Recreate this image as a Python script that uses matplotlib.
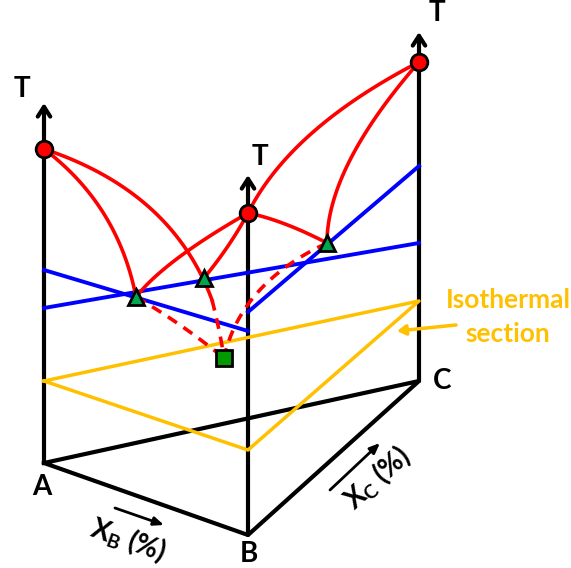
import numpy as np
import matplotlib
matplotlib.use("Agg")
import matplotlib.pyplot as plt

plt.rcParams["font.family"] = ["Lato", "DejaVu Sans"]
plt.rcParams["mathtext.fontset"] = "custom"
plt.rcParams["mathtext.rm"] = "Lato"
plt.rcParams["mathtext.bf"] = "Lato:bold"

# prism corners (base) and top of each temperature axis
corners = {"A": (44, 463), "B": (248, 535), "C": (419, 381)}
axisTops = {"A": 103, "B": 175, "C": 32}

# melting points of the pure components
meltA = (44, 149)
meltB = (248, 213)
meltC = (419, 62)

# binary eutectics and ternary eutectic
eutectics = [(136, 297), (204, 278), (327, 243)]
ternaryE = (224, 358)

# liquidus curves: start, point on curve, end
liquidus = [
    (meltA, (104, 214), eutectics[0]),
    (meltA, (150, 208), (212, 300)),
    (meltB, (178, 258), eutectics[0]),
    (meltB, (228, 246), eutectics[1]),
    (meltC, (312, 133), meltB),
    (meltC, (350, 160), eutectics[2]),
    (meltB, (285, 224), eutectics[2]),
]
valleys = [
    (eutectics[0], (180, 325), ternaryE),
    ((212, 300), (219, 330), ternaryE),
    (eutectics[2], (258, 292), ternaryE),
]

# tie lines on the binary faces
tieLines = [((44, 270), (248, 331)), ((44, 308), (419, 243)), ((248, 312), (419, 166))]
# isothermal plane
isoPlane = [(44, 381), (248, 450), (419, 301), (44, 381)]

red = "#ff0000"
blue = "#0000ff"
gold = "#ffc000"
black = "#000000"


def bezier(p0, mid, p2, n=80):
    p0, mid, p2 = np.array(p0, float), np.array(mid, float), np.array(p2, float)
    ctrl = 2 * mid - (p0 + p2) / 2
    t = np.linspace(0, 1, n)[:, None]
    pts = (1 - t) ** 2 * p0 + 2 * (1 - t) * t * ctrl + t ** 2 * p2
    return pts[:, 0], pts[:, 1]


fig = plt.figure(figsize=(5.71, 5.68), dpi=100)
ax = fig.add_axes([0, 0, 1, 1])
ax.set_xlim(0, 571)
ax.set_ylim(568, 0)
ax.axis("off")

# base triangle
a, b, c = corners["A"], corners["B"], corners["C"]
ax.plot([a[0], b[0], c[0], a[0]], [a[1], b[1], c[1], a[1]], color=black, lw=3, solid_joinstyle="round", zorder=2)

# temperature axes
for k, (x, y) in corners.items():
    ax.annotate("", xy=(x, axisTops[k]), xytext=(x, y),
                arrowprops=dict(arrowstyle="->,head_length=0.7,head_width=0.45", color=black, lw=3, shrinkA=0, shrinkB=0),
                zorder=2)
tLabels = {"A": (22, 89), "B": (260, 157), "C": (437, 13)}
for k, (x, y) in tLabels.items():
    ax.text(x, y, "T", fontsize=20, fontweight="bold", ha="center", va="center", zorder=5)

ax.text(42, 487, "A", fontsize=20, fontweight="bold", ha="center", va="center")
ax.text(249, 554, "B", fontsize=20, fontweight="bold", ha="center", va="center")
ax.text(442, 381, "C", fontsize=20, fontweight="bold", ha="center", va="center")

# composition axis labels
ax.annotate("", xy=(164, 525), xytext=(115, 508),
            arrowprops=dict(arrowstyle="-|>,head_length=0.6,head_width=0.25", color=black, lw=2, shrinkA=0, shrinkB=0))
ax.text(128, 540, r"$\mathbf{X_B}$ (%)", fontsize=20, fontweight="bold", rotation=-19.5,
        ha="center", va="center", rotation_mode="anchor")
ax.annotate("", xy=(380, 443), xytext=(330, 490),
            arrowprops=dict(arrowstyle="-|>,head_length=0.6,head_width=0.25", color=black, lw=2, shrinkA=0, shrinkB=0))
ax.text(378, 478, r"$\mathbf{X_C}$ (%)", fontsize=20, fontweight="bold", rotation=42,
        ha="center", va="center", rotation_mode="anchor")

# isothermal section
xs, ys = zip(*isoPlane)
ax.plot(xs, ys, color=gold, lw=2.5, zorder=3)
ax.annotate("", xy=(397, 331), xytext=(456, 325),
            arrowprops=dict(arrowstyle="-|>,head_length=0.5,head_width=0.3", color=gold, lw=2.5, shrinkA=0, shrinkB=0))
ax.text(508, 300, "Isothermal", color=gold, fontsize=19, fontweight="bold", ha="center", va="center")
ax.text(508, 334, "section", color=gold, fontsize=19, fontweight="bold", ha="center", va="center")

# tie lines
for p, q in tieLines:
    ax.plot([p[0], q[0]], [p[1], q[1]], color=blue, lw=2.8, zorder=3)

# liquidus curves and eutectic valleys
for p0, m, p2 in liquidus:
    cx, cy = bezier(p0, m, p2)
    ax.plot(cx, cy, color=red, lw=2.6, zorder=4)
for p0, m, p2 in valleys:
    cx, cy = bezier(p0, m, p2)
    ax.plot(cx, cy, color=red, lw=2.6, ls=(0, (3, 2.2)), zorder=4)

# points
for p in (meltA, meltB, meltC):
    ax.plot(*p, marker="o", ms=12, mfc=red, mec=black, mew=2, zorder=6)
for p in eutectics:
    ax.plot(*p, marker="^", ms=11.5, mfc="#00a550", mec=black, mew=2, zorder=6)
ax.plot(*ternaryE, marker="s", ms=11, mfc="#009a00", mec=black, mew=2, zorder=6)

fig.savefig("out.png", dpi=100)
